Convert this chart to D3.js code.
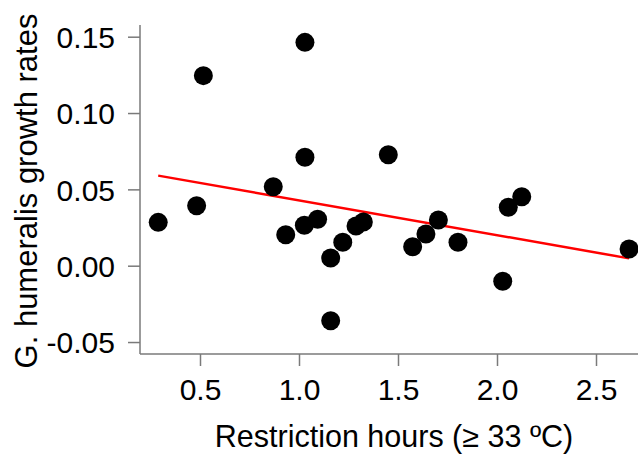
<!DOCTYPE html>
<html>
<head>
<meta charset="utf-8">
<script src="https://cdn.jsdelivr.net/npm/d3@7"></script>
<style>
  body { margin: 0; background: #fff; }
  svg { display: block; font-family: Arial, "Liberation Sans", sans-serif; }
</style>
</head>
<body>
<div id="chart"></div>
<script>
// Points
const hours = [0.289, 0.483, 0.517, 0.870, 0.933, 1.030, 1.030, 1.027, 1.094, 1.160, 1.160, 1.221,
               1.288, 1.325, 1.451, 1.574, 1.641, 1.704, 1.803, 2.029, 2.057, 2.125, 2.667];
const growth = [0.0284, 0.0393, 0.1245, 0.0517, 0.0203, 0.1463, 0.0710, 0.0265, 0.0304, 0.0050, -0.0360, 0.0153,
                0.0260, 0.0286, 0.0727, 0.0124, 0.0208, 0.0299, 0.0153, -0.0102, 0.0383, 0.0452, 0.0109];

// Fitted line ends
const fitX = [0.289, 2.667];
const fitY = [0.0590, 0.0048];

const xTicks = [0.5, 1.0, 1.5, 2.0, 2.5];
const yTicks = [-0.05, 0.00, 0.05, 0.10, 0.15];

const width = 638, height = 454;

const svg = d3.select('#chart').append('svg')
    .attr('width', width)
    .attr('height', height);

const x = d3.scaleLinear().domain([0.5, 2.5]).range([200, 596]);
const y = d3.scaleLinear().domain([0, 0.15]).range([265.7, 36.7]);

const axisColor = '#7a7a7a';
const plotLeft = 140, plotBottom = 354, plotTop = 25;

// Axes (L shape)
svg.append('line')
    .attr('x1', plotLeft).attr('x2', plotLeft)
    .attr('y1', plotTop).attr('y2', plotBottom)
    .attr('stroke', axisColor).attr('stroke-width', 1.5);

svg.append('line')
    .attr('x1', plotLeft).attr('x2', width)
    .attr('y1', plotBottom).attr('y2', plotBottom)
    .attr('stroke', axisColor).attr('stroke-width', 1.5);

// plain hyphen for negatives, like R
const fmt2 = d => d3.format('.2f')(d).replace('−', '-');

const gx = svg.append('g')
    .attr('transform', `translate(0,${plotBottom})`)
    .call(d3.axisBottom(x).tickValues(xTicks).tickFormat(d3.format('.1f')).tickSize(12));

const gy = svg.append('g')
    .attr('transform', `translate(${plotLeft},0)`)
    .call(d3.axisLeft(y).tickValues(yTicks).tickFormat(fmt2).tickSize(12));

[gx, gy].forEach(g => {
    g.select('.domain').remove();
    g.selectAll('.tick line').attr('stroke', axisColor).attr('stroke-width', 1.5);
    g.selectAll('.tick text')
        .attr('fill', '#000')
        .style('font-size', '30px')
        .style('font-family', 'Arial, "Liberation Sans", sans-serif');
});
gx.selectAll('.tick text').attr('y', 45.5).attr('dy', 0);
gy.selectAll('.tick text').attr('x', -25).attr('dy', '0.36em');

// Regression line
svg.append('line')
    .attr('x1', x(fitX[0])).attr('y1', y(fitY[0]))
    .attr('x2', x(fitX[1])).attr('y2', y(fitY[1]))
    .attr('stroke', '#ff0000')
    .attr('stroke-width', 2.5);

// Points
svg.append('g')
    .selectAll('circle')
    .data(hours.map((h, i) => ({ h, g: growth[i] })))
    .enter().append('circle')
    .attr('cx', d => x(d.h))
    .attr('cy', d => y(d.g))
    .attr('r', 9.5)
    .attr('fill', '#000');

// Axis titles
svg.append('text')
    .attr('x', 394)
    .attr('y', 446.5)
    .attr('text-anchor', 'middle')
    .style('font-size', '30.5px')
    .attr('fill', '#000')
    .text('Restriction hours (≥ 33 ºC)');

svg.append('text')
    .attr('transform', `translate(37,191) rotate(-90)`)
    .attr('text-anchor', 'middle')
    .style('font-size', '31px')
    .attr('fill', '#000')
    .text('G. humeralis growth rates');
</script>
</body>
</html>
